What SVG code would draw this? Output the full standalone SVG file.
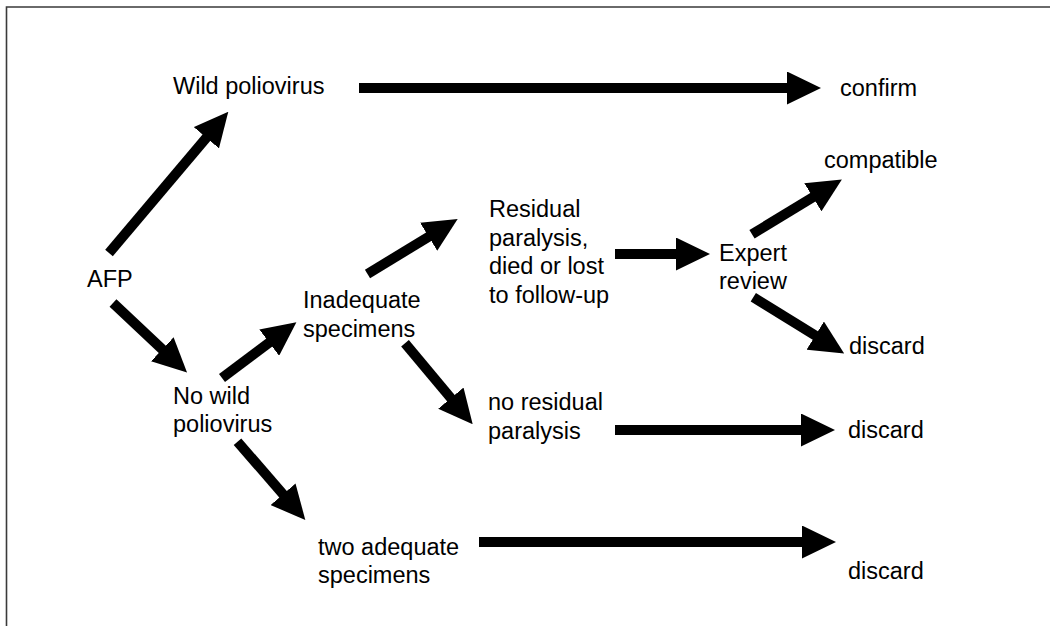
<svg xmlns="http://www.w3.org/2000/svg" width="1050" height="626" viewBox="0 0 1050 626">
<style>
.t{font-family:"Liberation Sans",Arial,sans-serif;font-size:23.5px;fill:#000}
.c{stroke:#000;stroke-width:10;fill:none;stroke-linecap:butt;marker-end:url(#ah)}
</style>
<defs>
<marker id="ah" markerUnits="userSpaceOnUse" viewBox="0 0 34 33" markerWidth="34" markerHeight="33" refX="1" refY="16.5" orient="auto">
<path d="M0,0 L34,16.5 L0,33 Z" fill="#000"/>
</marker>
</defs>
<rect width="1050" height="626" fill="#fff"/>
<path d="M6.5,626 V7 H1050" fill="none" stroke="#3a3a3a" stroke-width="1.6"/>
<g id="connectors">
<line class="c" x1="109" y1="253" x2="207" y2="137"/>
<line class="c" x1="359" y1="88" x2="788" y2="88"/>
<line class="c" x1="113" y1="303" x2="163" y2="350"/>
<line class="c" x1="222" y1="378" x2="270" y2="342"/>
<line class="c" x1="367.5" y1="274" x2="429.5" y2="236.2"/>
<line class="c" x1="405" y1="343.3" x2="451.5" y2="398.9"/>
<line class="c" x1="615" y1="254" x2="677" y2="254"/>
<line class="c" x1="752" y1="234.3" x2="813.7" y2="196.7"/>
<line class="c" x1="753.3" y1="297.3" x2="816.1" y2="336.1"/>
<line class="c" x1="615" y1="430" x2="802" y2="430"/>
<line class="c" x1="237.5" y1="441.7" x2="283.7" y2="495"/>
<line class="c" x1="479" y1="542" x2="803" y2="542"/>
</g>
<g id="afp"><text class="t" x="87" y="287">AFP</text></g>
<g id="wild"><text class="t" x="173" y="94">Wild poliovirus</text></g>
<g id="confirm"><text class="t" x="840" y="96">confirm</text></g>
<g id="nowild"><text class="t" x="173" y="403.5">No wild</text><text class="t" x="173" y="432">poliovirus</text></g>
<g id="inadequate"><text class="t" x="303" y="308">Inadequate</text><text class="t" x="303" y="336.5">specimens</text></g>
<g id="residual"><text class="t" x="489" y="217">Residual</text><text class="t" x="489" y="245.5">paralysis,</text><text class="t" x="489" y="274">died or lost</text><text class="t" x="489" y="302.5">to follow-up</text></g>
<g id="expert"><text class="t" x="719" y="260.5">Expert</text><text class="t" x="719" y="289">review</text></g>
<g id="compatible"><text class="t" x="824" y="167.5">compatible</text></g>
<g id="discard1"><text class="t" x="849" y="354">discard</text></g>
<g id="noresidual"><text class="t" x="488" y="410">no residual</text><text class="t" x="488" y="438.5">paralysis</text></g>
<g id="discard2"><text class="t" x="848" y="438">discard</text></g>
<g id="twoadequate"><text class="t" x="318" y="554.5">two adequate</text><text class="t" x="318" y="583">specimens</text></g>
<g id="discard3"><text class="t" x="848" y="579">discard</text></g>
</svg>
